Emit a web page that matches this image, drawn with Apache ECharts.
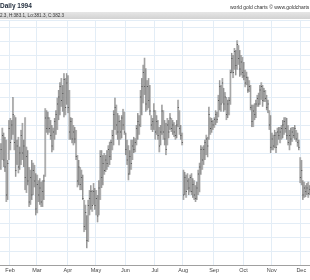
<!DOCTYPE html>
<html><head><meta charset="utf-8">
<script src="https://cdn.jsdelivr.net/npm/echarts@6/dist/echarts.min.js"></script>
<style>html,body{margin:0;padding:0;background:#fff}#c{width:310px;height:280px}</style>
</head><body><div id="c"></div>
<script>
const titleText = 'Daily 1994';
const infoText = '2.3, H:383.1, Lo:381.3, C:382.3';
const creditText = 'world gold charts \u00a9 www.goldcharts';
const monthLabels = ['Jan','Feb','Mar','Apr','May','Jun','Jul','Aug','Sep','Oct','Nov','Dec'];
const firstDay = '1994-01-21';
const lastDay = '1994-12-09';

const opens = [381.0,382.5,384.0,381.2,380.2,376.0,381.5,385.0,384.0,386.0,387.0,384.0,380.5,383.0,380.0,382.0,384.5,382.0,383.0,378.5,381.5,378.0,375.0,378.5,376.0,379.5,378.0,374.0,377.5,376.0,
377.0,375.0,376.5,378.5,387.0,385.5,387.0,385.5,384.5,383.0,385.0,386.5,387.5,389.0,390.0,391.5,389.5,390.5,392.5,388.5,392.0,388.5,385.0,386.5,384.0,385.0,384.0,381.5,378.0,380.0,
377.5,378.5,375.0,371.5,373.0,369.5,374.5,375.5,376.5,374.5,376.5,374.5,375.5,373.0,377.0,381.5,378.5,380.5,379.5,381.0,380.5,382.5,381.5,383.5,384.5,387.5,388.5,386.0,385.0,386.5,
385.0,387.0,386.0,384.5,382.5,381.0,379.0,381.5,380.5,383.0,382.5,383.5,385.5,386.5,386.0,390.0,391.5,393.5,391.5,389.0,391.5,389.5,387.0,386.0,386.5,388.0,385.0,386.5,384.5,383.0,
385.0,388.0,385.0,384.0,382.5,386.0,385.0,387.0,385.5,386.0,385.0,384.5,386.0,388.5,385.5,384.5,379.0,376.0,378.5,376.5,378.0,377.0,378.5,376.5,377.5,376.0,375.5,377.0,379.0,380.0,
382.5,381.0,382.5,383.5,384.0,383.5,387.5,385.5,386.5,386.0,386.8,387.5,387.0,389.5,391.5,389.0,392.0,389.0,390.0,387.5,389.0,389.5,393.5,395.5,393.5,396.5,394.5,397.5,395.5,394.0,
395.0,393.5,393.0,392.0,392.8,391.0,391.5,388.5,386.5,388.0,387.5,389.0,389.8,389.0,391.0,391.5,389.5,390.8,389.8,388.5,388.5,386.0,382.8,384.0,383.0,384.5,382.8,385.0,384.5,385.0,
385.5,386.0,386.5,385.5,384.5,383.5,384.5,384.0,385.0,384.5,385.0,384.0,383.5,381.0,378.5,377.5,376.0,377.0,376.5,377.0,376.2];
const highs = [383.4,385.6,384.9,384.3,383.9,381.0,386.7,387.0,386.7,390.0,387.4,387.1,383.9,384.3,382.9,385.3,386.3,383.9,387.1,382.9,382.4,380.0,379.6,381.0,380.6,380.3,379.1,378.9,378.1,378.4,
377.9,378.1,378.9,388.4,388.1,387.9,387.1,386.7,386.0,385.6,387.0,388.1,389.9,391.0,392.1,392.7,391.7,393.4,392.7,393.4,393.1,391.0,387.1,387.0,386.0,385.7,385.3,381.7,381.0,380.0,
379.6,378.9,375.3,374.6,373.1,375.3,376.7,377.4,376.7,377.7,377.0,376.7,376.0,378.1,382.4,382.4,381.7,382.0,381.7,382.4,383.1,383.6,383.9,385.3,388.1,389.9,388.9,387.7,387.4,386.7,
387.4,388.3,387.9,384.9,383.9,383.1,382.4,383.9,383.9,384.3,384.1,386.0,387.7,387.4,391.0,392.7,394.6,395.6,394.1,392.4,392.7,391.7,387.4,387.0,389.1,388.1,387.4,386.7,385.7,386.0,
388.9,388.1,386.7,386.3,387.0,386.7,387.7,387.0,386.7,386.4,386.0,386.7,389.6,388.1,386.0,384.9,379.6,379.3,378.9,379.1,378.4,378.9,379.1,378.4,378.1,377.4,377.9,379.6,380.6,383.1,
382.9,383.1,383.9,384.6,384.3,388.6,387.1,387.0,386.7,387.1,388.1,387.9,390.3,392.4,391.7,392.7,391.3,390.7,390.0,389.6,390.0,393.9,396.3,396.0,397.0,396.7,398.1,397.4,396.7,396.0,
395.7,395.0,393.9,393.6,392.9,392.4,391.7,388.9,388.9,389.1,389.6,390.3,390.6,391.7,392.1,391.7,391.3,391.0,390.3,389.6,388.1,387.4,384.9,384.6,385.3,385.0,385.6,385.7,385.7,386.0,
386.7,387.1,387.1,387.0,386.0,385.3,385.6,385.7,385.7,386.0,385.3,384.9,383.9,381.4,381.0,378.1,377.9,377.4,377.7,377.9,377.4];
const lows = [379.6,381.0,380.0,379.3,375.0,375.3,381.0,382.4,383.9,384.6,382.4,378.6,380.3,379.1,379.6,380.3,381.0,380.0,376.7,376.3,377.4,374.3,374.6,375.3,376.0,377.1,373.1,373.4,375.0,374.6,
374.3,374.3,375.3,378.6,384.9,384.6,384.9,383.9,382.1,382.4,383.9,384.6,385.3,386.7,387.4,388.6,387.9,387.1,387.4,388.9,387.7,383.9,383.9,383.4,383.1,383.4,381.0,377.1,377.4,376.7,
376.7,375.3,370.7,371.0,368.4,369.3,373.1,373.9,373.6,374.6,373.9,373.1,372.1,373.1,375.3,377.0,377.4,378.9,379.3,379.6,380.0,380.3,381.0,382.4,383.1,385.3,384.6,383.9,383.1,383.9,
384.1,385.3,384.6,381.7,380.3,378.1,378.9,379.6,381.0,382.0,382.1,383.1,383.9,384.6,385.7,387.4,389.1,390.3,387.9,388.1,388.4,387.4,385.3,385.0,385.3,383.9,384.6,383.9,382.1,383.1,
384.6,383.9,383.1,381.7,383.1,384.1,385.3,385.0,384.6,384.3,383.9,384.1,385.7,384.6,383.9,383.1,375.3,376.0,375.6,376.7,376.0,376.4,376.0,375.6,375.3,375.0,375.3,376.0,376.4,378.9,
379.6,380.3,381.0,381.7,381.4,383.9,384.6,384.9,385.3,385.6,386.0,386.3,387.1,388.1,387.9,389.1,387.9,388.1,386.7,387.0,387.4,388.9,393.4,392.7,393.9,393.1,393.9,394.6,392.9,393.1,
392.7,392.4,391.4,391.7,390.6,390.7,388.1,385.7,385.7,386.7,387.0,388.6,388.6,388.9,389.6,388.6,389.3,389.3,388.1,387.7,385.3,382.0,382.4,382.4,382.7,382.0,383.1,383.9,383.4,383.9,
384.1,384.6,384.9,383.9,383.1,382.4,383.1,383.6,384.1,383.9,383.6,382.9,382.4,377.7,377.4,375.3,375.6,375.7,376.0,375.6,376.0];
const closes = [382.5,384.5,381.0,380.0,376.0,380.5,385.5,383.5,386.0,387.5,383.5,379.5,383.0,380.0,382.0,384.5,382.0,383.0,378.5,381.5,378.0,375.0,378.5,376.0,379.5,378.0,374.0,377.5,376.0,377.0,
375.0,376.5,378.0,387.0,385.5,387.0,385.5,384.5,383.0,385.0,386.5,387.5,389.0,390.0,391.5,389.5,390.5,392.5,388.5,392.0,388.5,385.0,386.5,384.0,385.0,384.0,381.5,378.0,380.0,377.5,
378.5,375.5,371.5,373.5,369.5,374.5,375.5,376.5,374.5,376.5,374.5,375.5,373.0,377.0,381.5,378.5,380.5,379.5,381.0,380.5,382.5,381.5,383.5,384.5,387.5,388.5,386.0,385.0,386.5,385.0,
387.0,386.0,385.0,382.5,381.0,379.0,381.5,380.5,383.0,382.5,383.5,385.5,386.5,386.0,390.0,391.5,393.5,391.5,389.0,391.5,389.5,388.0,386.0,386.5,388.0,385.0,386.5,384.5,383.0,385.0,
388.0,385.0,384.0,382.5,386.0,385.0,387.0,385.5,386.0,385.0,384.5,386.0,388.5,385.5,384.5,383.5,376.0,378.5,376.5,378.0,377.0,378.5,376.5,377.5,376.0,375.5,377.0,379.0,380.0,382.5,
381.0,382.5,383.5,384.0,383.0,387.5,385.5,386.5,386.0,386.8,387.5,386.8,389.5,391.5,389.0,392.0,389.0,390.0,387.5,389.0,389.5,393.5,395.5,393.5,396.5,394.5,397.5,395.5,394.0,395.0,
393.5,393.0,392.0,392.8,391.0,391.5,388.5,386.5,388.0,387.5,389.0,389.8,389.0,391.0,391.5,389.5,390.8,389.8,388.5,389.0,386.0,382.8,384.0,383.0,384.5,382.8,385.0,384.5,385.0,385.5,
386.0,386.5,385.5,384.5,383.5,384.5,384.0,385.0,384.5,385.5,384.0,383.5,382.8,378.5,379.5,376.0,377.0,376.5,377.0,376.2,376.8];

// trading-day calendar (weekdays) between firstDay and lastDay
const dates = [];
for (let d = new Date(firstDay + 'T00:00:00Z'); d <= new Date(lastDay + 'T00:00:00Z'); d.setUTCDate(d.getUTCDate() + 1)) {
  const wd = d.getUTCDay();
  if (wd !== 0 && wd !== 6) dates.push(d.toISOString().slice(0, 10));
}
const monthOf = s => parseInt(s.slice(5, 7), 10) - 1;
const isMonthStart = (i) => i > 0 && monthOf(dates[i]) !== monthOf(dates[i - 1]);

const ohlc = dates.map((d, i) => [i, opens[i], highs[i], lows[i], closes[i]]);

const chart = echarts.init(document.getElementById('c'), null, {renderer: 'canvas'});
const gridColor = '#e3edf6';
chart.setOption({
  animation: false,
  backgroundColor: '#ffffff',
  grid: {left: 0, right: 0, top: 20, bottom: 15},
  xAxis: {
    type: 'category', data: dates, boundaryGap: true,
    axisLine: {lineStyle: {color: '#a0a0a0', width: 1}},
    axisTick: {alignWithLabel: true, interval: (i) => isMonthStart(i), length: 2, lineStyle: {color: '#8a8a8a'}},
    axisLabel: {interval: (i) => isMonthStart(i), formatter: (v) => monthLabels[monthOf(v)],
      fontSize: 5.5, color: '#444', margin: 2, fontFamily: 'Liberation Sans'},
    splitLine: {show: true, interval: (i) => isMonthStart(i), lineStyle: {color: gridColor, width: 1}}
  },
  yAxis: {
    type: 'value', min: 366, max: 401, interval: 2, position: 'right',
    axisLabel: {show: false}, axisLine: {show: false}, axisTick: {show: false},
    splitLine: {lineStyle: {color: gridColor, width: 1}}
  },
  series: [{
    type: 'custom',
    data: ohlc,
    encode: {x: 0, y: [1, 2, 3, 4]},
    renderItem: function (params, api) {
      const idx = api.value(0);
      const h = api.coord([idx, api.value(2)]);
      const l = api.coord([idx, api.value(3)]);
      const o = api.coord([idx, api.value(1)]);
      const c = api.coord([idx, api.value(4)]);
      return {
        type: 'group',
        children: [
          {type: 'rect', shape: {x: h[0] + 0.2, y: h[1], width: 1.1, height: l[1] - h[1]}, style: {fill: '#c6c6c6'}},
          {type: 'line', shape: {x1: h[0], y1: h[1], x2: h[0], y2: l[1]}, style: {stroke: '#6a6a6a', lineWidth: 0.7}},
          {type: 'line', shape: {x1: c[0], y1: c[1], x2: c[0] + 1, y2: c[1]}, style: {stroke: '#3a3a3a', lineWidth: 0.8}}
        ]
      };
    }
  }],
  graphic: [
    {type: 'rect', left: 0, top: 12, shape: {width: 310, height: 7},
     style: {fill: new echarts.graphic.LinearGradient(0, 0, 0, 1, [{offset: 0, color: '#e6e6e6'}, {offset: 1, color: '#d2d2d2'}])}, z: 10},
    {type: 'text', left: 0, top: 3, style: {text: titleText, fontSize: 6.5, fontWeight: 'bold', fill: '#1e2a3a', fontFamily: 'Liberation Sans'}, z: 11},
    {type: 'text', left: 0, top: 13, style: {text: infoText, fontSize: 4.6, fill: '#333', fontFamily: 'Liberation Sans'}, z: 11},
    {type: 'text', left: 230, top: 5, style: {text: creditText, fontSize: 5, fill: '#333', fontFamily: 'Liberation Sans'}, z: 11}
  ]
});
</script>
</body></html>
